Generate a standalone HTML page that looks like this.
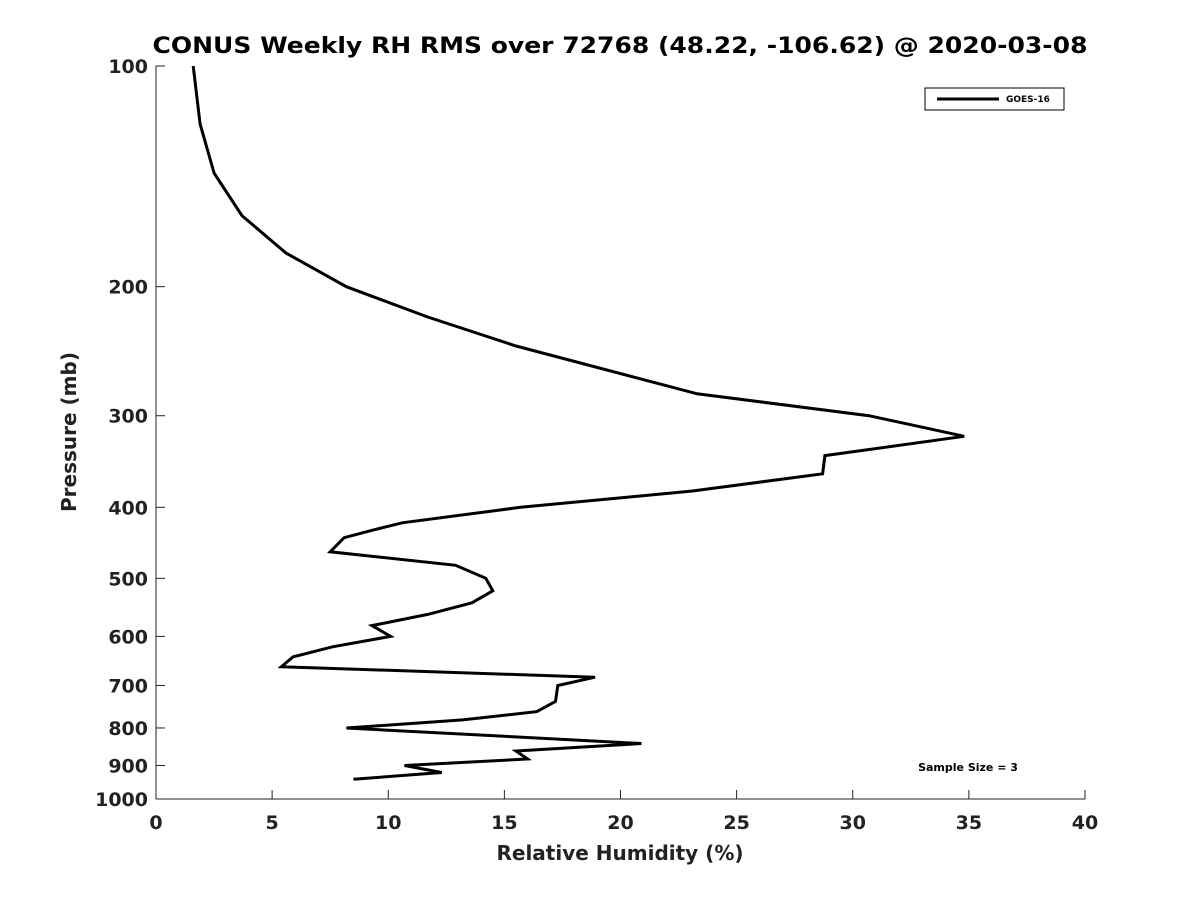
<!DOCTYPE html>
<html><head><meta charset="utf-8"><style>
body{margin:0;background:#fff}
svg text{font-family:"DejaVu Sans","Liberation Sans",sans-serif;font-weight:bold;fill:#222}
</style></head><body>
<svg id="chart" width="1200" height="900" xmlns="http://www.w3.org/2000/svg">
<rect width="1200" height="900" fill="#fff"/>
<text x="620" y="53" text-anchor="middle" font-size="22" textLength="935" lengthAdjust="spacingAndGlyphs" style="fill:#000">CONUS Weekly RH RMS over 72768 (48.22, -106.62) @ 2020-03-08</text>
<g id="axes"></g>
<path id="line" fill="none" stroke="#000" stroke-width="3" stroke-linejoin="miter"/>
<text x="620" y="860" text-anchor="middle" font-size="20">Relative Humidity (%)</text>
<text transform="translate(76,432) rotate(-90)" text-anchor="middle" font-size="20">Pressure (mb)</text>
<g>
<rect x="925" y="88" width="139" height="22" fill="#fff" stroke="#000" stroke-width="1"/>
<line x1="937" y1="99" x2="999" y2="99" stroke="#000" stroke-width="3"/>
<text x="1006" y="102" font-size="9" style="fill:#000">GOES-16</text>
</g>
<text x="968" y="771" text-anchor="middle" font-size="11" style="fill:#000">Sample Size = 3</text>
</svg>
<script>
const pressures=[100,120,140,160,180,200,220,241,280,300,320,340,360,380,400,420,430,440,460,480,500,520,540,560,580,600,620,640,660,682,700,736,760,780,800,840,860,882,900,920,940];
const rhValues=[1.6,1.9,2.5,3.7,5.6,8.2,11.7,15.5,23.3,30.7,34.8,28.8,28.7,23.1,15.7,10.6,9.3,8.1,7.5,12.9,14.2,14.5,13.6,11.7,9.3,10.1,7.6,5.9,5.4,18.9,17.3,17.2,16.4,13.2,8.2,20.9,15.5,16.0,10.7,12.3,8.5];
const xTicks=[0,5,10,15,20,25,30,35,40];
const yTicks=[100,200,300,400,500,600,700,800,900,1000];
const X0=156,X1=1085,Y0=66,Y1=799;
const xs=v=>X0+(v-0)/(40-0)*(X1-X0);
const ys=p=>Y0+Math.log10(p/100)*(Y1-Y0);
const NS="http://www.w3.org/2000/svg";
const ax=document.getElementById('axes');
function mk(t,a){const e=document.createElementNS(NS,t);for(const k in a)e.setAttribute(k,a[k]);ax.appendChild(e);return e;}
let e=mk('line',{x1:X0,y1:Y0,x2:X0,y2:Y1,stroke:'#222','stroke-width':1});


e=mk('line',{x1:X0,y1:Y1,x2:X1,y2:Y1,stroke:'#222','stroke-width':1});


xTicks.forEach(v=>{
 const t=mk('line',{x1:xs(v),y1:Y1,x2:xs(v),y2:Y1-9,stroke:'#222'});
 
 
 const l=mk('text',{x:xs(v),y:Y1+30,'text-anchor':'middle','font-size':19});
 l.textContent=v;
 
 
});
yTicks.forEach(p=>{
 const t=mk('line',{x1:X0,y1:ys(p),x2:X0+9,y2:ys(p),stroke:'#222'});
 
 
 const l=mk('text',{x:X0-8,y:ys(p)+7,'text-anchor':'end','font-size':19});
 l.textContent=p;
 
 
});
document.getElementById('line').setAttribute('d',pressures.map((p,i)=>(i?'L':'M')+xs(rhValues[i]).toFixed(1)+' '+ys(p).toFixed(1)).join(' '));
</script>
</body></html>
